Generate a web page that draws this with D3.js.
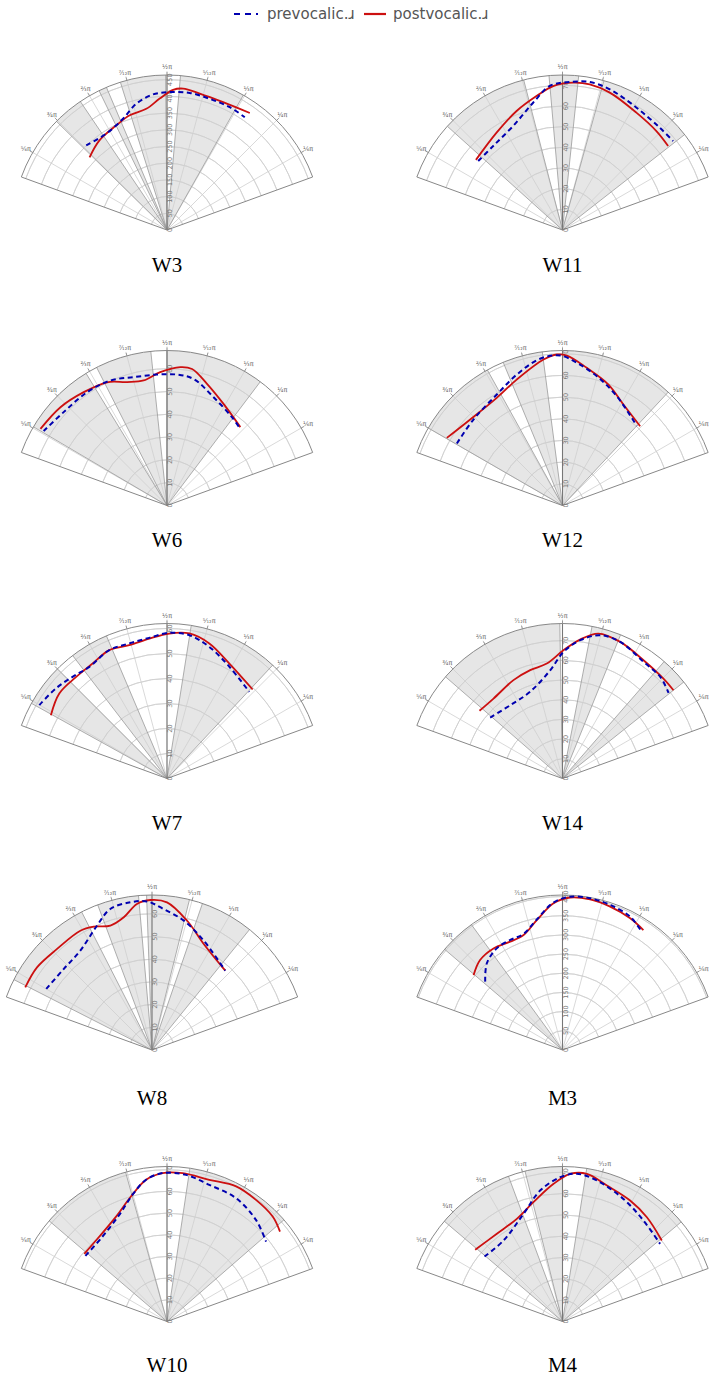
<!DOCTYPE html>
<html lang="en">
<head>
<meta charset="UTF-8">
<title>Tongue contours</title>
<script src="https://d3js.org/d3.v7.min.js"></script>
<style>
    body { margin: 0; background: #fff; }
    svg { display: block; }
</style>
</head>
<body>
<div id="chart"></div>
<script>
    // speakers, in reading order (left, right per row)
    const speakers = ["W3", "W11", "W6", "W12", "W7", "W14", "W8", "M3", "W10", "M4"];
    const radialMax = [464, 75, 68, 71.5, 62, 78.7, 68.3, 404, 71.5, 72.7];
    const radialStep = [50, 10, 10, 10, 10, 10, 10, 50, 10, 10];

    // angle ticks (degrees) and their labels
    const angleTicks = [30, 45, 60, 75, 90, 105, 120, 135, 150];
    const angleLabels = ["¹⁄₆π", "¹⁄₄π", "¹⁄₃π", "⁵⁄₁₂π", "¹⁄₂π", "⁷⁄₁₂π", "²⁄₃π", "³⁄₄π", "⁵⁄₆π"];

    // grey sectors where the two contours differ, [from, to] in degrees
    const sectors = [
        [[135.5, 124], [116, 113], [107.5, 90.5], [85, 60.5]],
        [[138, 104.5], [95, 84], [74.5, 38]],
        [[149.5, 121.5], [117, 96], [90, 53]],
        [[150, 119], [112.5, 97.5], [90, 47]],
        [[151, 135], [127.5, 113], [81, 47]],
        [[139, 91], [79, 68], [49, 38.5]],
        [[153, 117], [110.5, 95], [92, 76], [71, 51]],
        [[139.5, 126]],
        [[139.5, 105.5], [81.5, 41]],
        [[139.7, 110.4], [104, 90], [81, 40]]
    ];

    // contours: [angle in degrees, distance]
    const preW3 = [[133.7, 350], [122.3, 341], [111.6, 358], [103.7, 389], [95.9, 408], [88.9, 413], [80.6, 416], [72, 413], [62.9, 413], [55.4, 410]];
    const postW3 = [[136.8, 318], [127, 336], [115.9, 348], [108, 361], [99.7, 368], [93.2, 394], [87.5, 420], [83.5, 426], [76.5, 420], [66.3, 418], [54.7, 429]];
    const preW11 = [[140.7, 52.7], [129.5, 52.7], [115.4, 55.7], [103, 63.2], [95, 70], [87.2, 71.7], [79.5, 72.8], [71.4, 71.8], [58.8, 69.2], [46.4, 68.3], [38.8, 68.7]];
    const postW11 = [[141, 53.9], [124.1, 56.9], [111.1, 61.7], [101, 66], [93.7, 69.8], [85.9, 71.5], [79.4, 71.7], [71, 70.3], [57.8, 67.1], [46.5, 66], [38.5, 65.3]];
    const preW6 = [[148.9, 63.2], [137.9, 61.1], [125.2, 60.8], [114.4, 60.2], [104.6, 58.2], [94.4, 57.6], [85.6, 57.6], [78.1, 56.7], [66.7, 51.7], [53.7, 48.1], [46.3, 46.5]];
    const postW6 = [[148.8, 64.9], [137.3, 63.6], [126.3, 61.7], [115.9, 60.1], [107.9, 56.9], [100.6, 55.8], [92.9, 58.6], [84.5, 61], [79.6, 60.9], [71.8, 56.2], [60.9, 51], [46.9, 47.1]];
    const preW12 = [[149.6, 56.5], [136, 57.1], [120.6, 59.5], [109.2, 64], [98.7, 68.5], [90.9, 69.2], [84.3, 66.2], [75.1, 61.7], [63.6, 56.3], [46.9, 50.2]];
    const postW12 = [[149.7, 61.8], [137, 58.2], [121.4, 58.2], [110, 61.8], [97.4, 67.9], [92.1, 69.7], [88.3, 69.2], [80, 64.5], [69.2, 59.7], [58.9, 54.4], [45.6, 51.2]];
    const preW7 = [[150.1, 58.9], [140.9, 57.2], [132.9, 55.5], [124.8, 54.4], [114.2, 56.3], [105.6, 56.1], [97.2, 56.7], [89.1, 58.3], [81.1, 58], [72.2, 55.3], [60.8, 51.2], [46.5, 47.8]];
    const postW7 = [[151.4, 52.9], [141.7, 54.9], [131.8, 54.5], [122.9, 54.8], [114.2, 56.3], [105.8, 55.4], [97.2, 56.4], [89.1, 58], [81.2, 58.7], [72.6, 56.6], [61.5, 52.3], [46.1, 49.4]];
    const preW14 = [[139.9, 48], [125.5, 45.7], [110.5, 47], [96.5, 55.3], [89.5, 64.3], [82.7, 70.8], [75.3, 75.2], [67.1, 75.3], [55.2, 72.1], [46.1, 71.6], [38.9, 69.2]];
    const postW14 = [[140.8, 54.4], [130.8, 53.6], [116.5, 55.8], [106.6, 57.4], [97.8, 58.9], [89.6, 65.1], [82.8, 71.1], [76.1, 75.8], [67.1, 75.3], [55.6, 72.8], [44.7, 72.1], [38.5, 72]];
    const preW8 = [[150, 53.8], [137.5, 52.8], [125.8, 54], [113.9, 59.9], [106.5, 64.8], [98.3, 65.8], [91.9, 65.5], [85.3, 62.3], [76.2, 58.7], [64.7, 53.3], [47.3, 47.6]];
    const postW8 = [[153.7, 62.3], [144.3, 62.4], [133.2, 61.1], [121, 61.3], [115.3, 60.1], [108.5, 57.8], [102, 59.8], [95.9, 64.7], [90.6, 66.1], [84.2, 65.4], [74.9, 59.1], [64, 52], [47.3, 47.6]];
    const preM3 = [[138.5, 269], [131.1, 300], [122.9, 315.5], [115.4, 317.5], [108.6, 319], [101.1, 347], [93.5, 385], [87.1, 400], [79.7, 401.8], [71.8, 398], [63.1, 389.7], [56.2, 371]];
    const postM3 = [[139.9, 303], [132.5, 318], [124.2, 320], [115.8, 313.6], [108.7, 316.4], [101.2, 345], [93.5, 383], [87.1, 398], [79.6, 399], [71.6, 393.7], [62.8, 386], [56, 377]];
    const preW10 = [[141.2, 48.3], [127.1, 49.2], [114.1, 53.9], [105.2, 60.6], [98.4, 66.1], [91.7, 68.5], [82.6, 68.2], [72.8, 66], [60.8, 65.2], [48.8, 62.3], [38.9, 58.7]];
    const postW10 = [[140.7, 49.3], [128.5, 50.1], [115.9, 53.8], [106.1, 60], [98.4, 66.1], [91.7, 68.5], [84, 68.8], [73.4, 68.2], [62.9, 70], [53.8, 69.5], [44.8, 68.7], [38.5, 66.6]];
    const preM4 = [[140.2, 47.6], [126.1, 47], [109.9, 53.7], [99.7, 62.3], [90.9, 67.7], [84.5, 69.6], [76.3, 68.1], [63.6, 64.2], [51.3, 60.7], [38.5, 58.5]];
    const postM4 = [[140.6, 53], [126.8, 51.4], [114, 52.7], [103.7, 57.6], [93.7, 64.7], [87, 69.3], [80.6, 70.2], [71.9, 67.1], [60.8, 65], [51, 62.9], [39.2, 60.1]];

    const prevocalic = [preW3, preW11, preW6, preW12, preW7, preW14, preW8, preM3, preW10, preM4];
    const postvocalic = [postW3, postW11, postW6, postW12, postW7, postW14, postW8, postM3, postW10, postM4];

    // layout
    const W = 714, H = 1378, R = 155;
    const panelX = [167, 562.5, 167, 562.5, 167, 562.5, 152, 562.5, 167, 562.5];
    const panelY = [230, 230, 505.5, 505.5, 778.5, 778.5, 1050, 1050, 1321.5, 1321.5];
    const titleY = [272, 272, 547, 547, 830, 830, 1105, 1105, 1372, 1372];
    const fanFrom = 20, fanTo = 160;

    const toRad = d => (90 - d) * Math.PI / 180;

    const svg = d3.select("#chart").append("svg")
        .attr("width", W).attr("height", H)
        .style("font-family", "DejaVu Sans, sans-serif");

    // legend
    const legend = svg.append("g").attr("transform", "translate(0,15)");
    legend.append("line").attr("x1", 234).attr("x2", 258).attr("y1", -1).attr("y2", -1)
        .attr("stroke", "#0000b0").attr("stroke-width", 2.2).attr("stroke-dasharray", "6,5");
    legend.append("text").attr("x", 267).attr("y", 4).attr("font-size", 15).attr("fill", "#555")
        .text("prevocalic.ɹ");
    legend.append("line").attr("x1", 364).attr("x2", 386).attr("y1", -1).attr("y2", -1)
        .attr("stroke", "#cc1010").attr("stroke-width", 2.2);
    legend.append("text").attr("x", 393).attr("y", 4).attr("font-size", 15).attr("fill", "#555")
        .text("postvocalic.ɹ");

    speakers.forEach((name, i) => {
        const g = svg.append("g").attr("transform", `translate(${panelX[i]},${panelY[i]})`);
        const r = d3.scaleLinear().domain([0, radialMax[i]]).range([0, R]);
        const ticks = d3.range(radialStep[i], radialMax[i], radialStep[i]);

        // white fan
        g.append("path")
            .attr("d", d3.arc()({ innerRadius: 0, outerRadius: R, startAngle: toRad(fanTo), endAngle: toRad(fanFrom) }))
            .attr("fill", "#fff");

        // grey sectors
        g.selectAll("path.sector").data(sectors[i]).join("path")
            .attr("class", "sector")
            .attr("d", d => d3.arc()({ innerRadius: 0, outerRadius: R, startAngle: toRad(d[0]), endAngle: toRad(d[1]) }))
            .attr("fill", "#e6e6e6");

        // concentric grid
        g.selectAll("path.ring").data(ticks).join("path")
            .attr("class", "ring")
            .attr("d", t => d3.arc()({ innerRadius: r(t), outerRadius: r(t), startAngle: toRad(fanTo), endAngle: toRad(fanFrom) }))
            .attr("fill", "none").attr("stroke", "#cfcfcf").attr("stroke-width", 0.8);

        // radial grid
        g.selectAll("line.spoke").data(angleTicks).join("line")
            .attr("class", "spoke")
            .attr("x1", 0).attr("y1", 0)
            .attr("x2", a => (R + 4) * Math.cos(a * Math.PI / 180))
            .attr("y2", a => -(R + 4) * Math.sin(a * Math.PI / 180))
            .attr("stroke", "#cfcfcf").attr("stroke-width", 0.8);

        // sector edges
        const edges = sectors[i].flat();
        g.selectAll("line.edge").data(edges).join("line")
            .attr("class", "edge")
            .attr("x1", 0).attr("y1", 0)
            .attr("x2", a => R * Math.cos(a * Math.PI / 180))
            .attr("y2", a => -R * Math.sin(a * Math.PI / 180))
            .attr("stroke", "#9a9a9a").attr("stroke-width", 0.8);

        // vertical axis
        g.append("line").attr("x1", 0).attr("y1", 0).attr("x2", 0).attr("y2", -R)
            .attr("stroke", "#777").attr("stroke-width", 1.1);

        // fan outline
        g.append("path")
            .attr("d", d3.arc()({ innerRadius: 0, outerRadius: R, startAngle: toRad(fanTo), endAngle: toRad(fanFrom) }))
            .attr("fill", "none").attr("stroke", "#888").attr("stroke-width", 1);

        // tick marks on the rim
        g.selectAll("line.tick").data(angleTicks).join("line")
            .attr("class", "tick")
            .attr("x1", a => R * Math.cos(a * Math.PI / 180))
            .attr("y1", a => -R * Math.sin(a * Math.PI / 180))
            .attr("x2", a => (R + 3) * Math.cos(a * Math.PI / 180))
            .attr("y2", a => -(R + 3) * Math.sin(a * Math.PI / 180))
            .attr("stroke", "#888").attr("stroke-width", 0.8);

        // angle labels
        g.selectAll("text.alab").data(angleTicks).join("text")
            .attr("class", "alab")
            .attr("x", a => (R + 8) * Math.cos(a * Math.PI / 180))
            .attr("y", a => -(R + 8) * Math.sin(a * Math.PI / 180) + 2)
            .attr("text-anchor", "middle")
            .attr("font-size", 6.5).attr("fill", "#666")
            .text((a, j) => angleLabels[j]);

        // radial labels along the vertical axis
        g.selectAll("text.rlab").data([0].concat(ticks)).join("text")
            .attr("class", "rlab")
            .attr("transform", t => `translate(5,${-r(t)}) rotate(-90)`)
            .attr("text-anchor", "middle")
            .attr("font-size", 6.5).attr("fill", "#777")
            .text(t => t);

        // contours
        const line = d3.lineRadial()
            .angle(d => toRad(d[0]))
            .radius(d => r(d[1]))
            .curve(d3.curveCatmullRom.alpha(0.5));

        g.append("path").datum(postvocalic[i])
            .attr("d", line)
            .attr("fill", "none").attr("stroke", "#cc1010").attr("stroke-width", 1.8);

        g.append("path").datum(prevocalic[i])
            .attr("d", line)
            .attr("fill", "none").attr("stroke", "#0000b0").attr("stroke-width", 2)
            .attr("stroke-dasharray", "5,3.5");

        // title
        svg.append("text")
            .attr("x", panelX[i]).attr("y", titleY[i])
            .attr("text-anchor", "middle")
            .attr("font-family", "Liberation Serif, Times New Roman, serif")
            .attr("font-size", 21).attr("fill", "#000")
            .text(name);
    });
</script>
</body>
</html>
